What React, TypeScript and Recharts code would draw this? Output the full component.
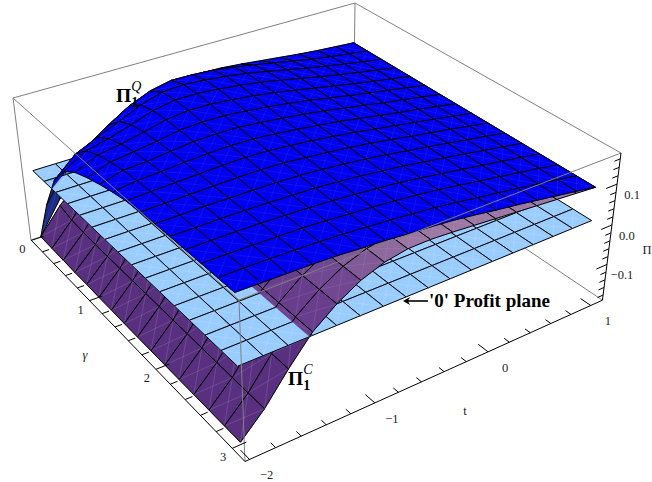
import { ScatterChart, Scatter, XAxis, YAxis } from 'recharts'

const WIDTH = 652
const HEIGHT = 482

const tValues = [-2, -1.8125, -1.625, -1.4375, -1.25, -1.0625, -0.875, -0.6875, -0.5, -0.3125, -0.125, 0.0625, 0.25, 0.4375, 0.625, 0.8125, 1]
const gammaValues = [0, 0.2, 0.4, 0.6, 0.8, 1, 1.2, 1.4, 1.6, 1.8, 2, 2.2, 2.4, 2.6, 2.8, 3]

// one row per t, one column per gamma
const quantityProfit = [
  [-0.175, -0.06, 0.03, 0.08, 0.105, 0.12, 0.132, 0.142, 0.15, 0.154, 0.157, 0.159, 0.16, 0.161, 0.162, 0.163],
  [-0.095, 0.015, 0.078, 0.113, 0.129, 0.139, 0.147, 0.15, 0.153, 0.155, 0.157, 0.158, 0.16, 0.161, 0.162, 0.162],
  [-0.035, 0.055, 0.102, 0.125, 0.138, 0.146, 0.15, 0.153, 0.155, 0.156, 0.158, 0.159, 0.16, 0.16, 0.161, 0.161],
  [0.01, 0.09, 0.125, 0.142, 0.15, 0.154, 0.156, 0.157, 0.157, 0.157, 0.157, 0.158, 0.159, 0.159, 0.16, 0.16],
  [0.05, 0.122, 0.149, 0.16, 0.163, 0.163, 0.162, 0.16, 0.159, 0.158, 0.157, 0.157, 0.157, 0.158, 0.158, 0.158],
  [0.085, 0.144, 0.165, 0.17, 0.169, 0.166, 0.163, 0.161, 0.16, 0.158, 0.156, 0.155, 0.155, 0.155, 0.155, 0.154],
  [0.105, 0.155, 0.168, 0.17, 0.168, 0.165, 0.162, 0.16, 0.158, 0.156, 0.154, 0.153, 0.152, 0.151, 0.151, 0.151],
  [0.117, 0.154, 0.164, 0.165, 0.163, 0.16, 0.157, 0.155, 0.153, 0.151, 0.15, 0.149, 0.148, 0.147, 0.147, 0.146],
  [0.12, 0.15, 0.158, 0.159, 0.157, 0.154, 0.151, 0.149, 0.148, 0.146, 0.145, 0.144, 0.143, 0.143, 0.142, 0.142],
  [0.118, 0.143, 0.15, 0.151, 0.149, 0.146, 0.144, 0.142, 0.141, 0.14, 0.139, 0.138, 0.138, 0.137, 0.137, 0.137],
  [0.113, 0.134, 0.14, 0.141, 0.139, 0.138, 0.136, 0.135, 0.134, 0.133, 0.132, 0.132, 0.131, 0.131, 0.13, 0.13],
  [0.107, 0.124, 0.129, 0.13, 0.129, 0.128, 0.127, 0.126, 0.125, 0.125, 0.124, 0.124, 0.123, 0.123, 0.122, 0.122],
  [0.101, 0.114, 0.118, 0.119, 0.119, 0.118, 0.118, 0.117, 0.117, 0.116, 0.116, 0.116, 0.115, 0.115, 0.115, 0.115],
  [0.095, 0.104, 0.108, 0.109, 0.109, 0.109, 0.108, 0.108, 0.108, 0.108, 0.108, 0.108, 0.107, 0.107, 0.107, 0.107],
  [0.09, 0.096, 0.099, 0.1, 0.1, 0.1, 0.1, 0.1, 0.1, 0.1, 0.099, 0.099, 0.099, 0.099, 0.099, 0.099],
  [0.086, 0.089, 0.09, 0.091, 0.091, 0.091, 0.091, 0.091, 0.091, 0.091, 0.091, 0.091, 0.091, 0.091, 0.091, 0.091],
  [0.082, 0.082, 0.082, 0.082, 0.082, 0.082, 0.082, 0.082, 0.082, 0.082, 0.082, 0.082, 0.082, 0.082, 0.082, 0.082],
]

const contractProfit = [
  [-0.175, -0.176, -0.177, -0.178, -0.178, -0.179, -0.179, -0.18, -0.18, -0.18, -0.18, -0.18, -0.18, -0.18, -0.18, -0.18],
  [-0.11, -0.12, -0.123, -0.125, -0.125, -0.125, -0.125, -0.125, -0.125, -0.125, -0.125, -0.125, -0.125, -0.125, -0.125, -0.125],
  [-0.06, -0.056, -0.055, -0.055, -0.055, -0.055, -0.055, -0.055, -0.055, -0.055, -0.055, -0.055, -0.055, -0.055, -0.055, -0.055],
  [-0.02, 0.0, 0.005, 0.007, 0.008, 0.008, 0.008, 0.008, 0.008, 0.008, 0.008, 0.008, 0.008, 0.008, 0.008, 0.008],
  [0.015, 0.038, 0.045, 0.048, 0.05, 0.05, 0.05, 0.05, 0.05, 0.05, 0.05, 0.05, 0.05, 0.05, 0.05, 0.05],
  [0.04, 0.068, 0.077, 0.08, 0.082, 0.082, 0.082, 0.082, 0.082, 0.082, 0.082, 0.082, 0.082, 0.082, 0.082, 0.082],
  [0.06, 0.09, 0.098, 0.1, 0.102, 0.102, 0.102, 0.102, 0.102, 0.102, 0.102, 0.102, 0.102, 0.102, 0.102, 0.102],
  [0.075, 0.102, 0.108, 0.11, 0.112, 0.112, 0.112, 0.112, 0.112, 0.112, 0.112, 0.112, 0.112, 0.112, 0.112, 0.112],
  [0.085, 0.104, 0.11, 0.112, 0.113, 0.113, 0.113, 0.113, 0.113, 0.113, 0.113, 0.113, 0.113, 0.113, 0.113, 0.113],
  [0.088, 0.103, 0.107, 0.109, 0.11, 0.11, 0.11, 0.11, 0.11, 0.11, 0.11, 0.11, 0.11, 0.11, 0.11, 0.11],
  [0.088, 0.1, 0.104, 0.105, 0.106, 0.106, 0.106, 0.106, 0.106, 0.106, 0.106, 0.106, 0.106, 0.106, 0.106, 0.106],
  [0.087, 0.097, 0.1, 0.101, 0.102, 0.102, 0.102, 0.102, 0.102, 0.102, 0.102, 0.102, 0.102, 0.102, 0.102, 0.102],
  [0.086, 0.093, 0.096, 0.097, 0.098, 0.098, 0.098, 0.098, 0.098, 0.098, 0.098, 0.098, 0.098, 0.098, 0.098, 0.098],
  [0.085, 0.09, 0.092, 0.093, 0.094, 0.094, 0.094, 0.094, 0.094, 0.094, 0.094, 0.094, 0.094, 0.094, 0.094, 0.094],
  [0.084, 0.087, 0.089, 0.09, 0.09, 0.09, 0.09, 0.09, 0.09, 0.09, 0.09, 0.09, 0.09, 0.09, 0.09, 0.09],
  [0.083, 0.085, 0.086, 0.086, 0.086, 0.086, 0.086, 0.086, 0.086, 0.086, 0.086, 0.086, 0.086, 0.086, 0.086, 0.086],
  [0.082, 0.082, 0.082, 0.082, 0.082, 0.082, 0.082, 0.082, 0.082, 0.082, 0.082, 0.082, 0.082, 0.082, 0.082, 0.082],
]

const gammaTickLabels = [0, 1, 2, 3]
const tTickLabels = [-2, -1, 0, 1]
const zTickLabels = [0.1, 0, -0.1]
const gammaMinorTicks = [0, 0.2, 0.4, 0.6, 0.8, 1, 1.2, 1.4, 1.6, 1.8, 2, 2.2, 2.4, 2.6, 2.8, 3]
const tMinorTicks = [-2, -1.8, -1.6, -1.4, -1.2, -1, -0.8, -0.6, -0.4, -0.2, 0, 0.2, 0.4, 0.6, 0.8, 1]
const zMinorTicks = [-0.18, -0.16, -0.14, -0.12, -0.1, -0.08, -0.06, -0.04, -0.02, 0, 0.02, 0.04, 0.06, 0.08, 0.1, 0.12, 0.14, 0.16]

type V3 = { u: number; v: number; s: number; z: number }
type Pt = [number, number]

// perspective of the plot box, fitted to its visible corners
const project = (u: number, v: number, s: number): Pt => {
  const w = 1 + 0.14506 * u - 0.20572 * v + 0.062 * s
  return [(13 + 393.5 * u + 176.83 * v + 19.92 * s) / w, (98 - 94.56 * u + 140.28 * v + 156.9 * s) / w]
}
const surfaceU = (t: number) => 0.015 + (t + 2) * 0.32
const surfaceV = (g: number) => 0.03 + g * 0.31
const zToS = (z: number) => 0.473 - 2.72 * z
const axisU = (t: number) => 0.011 + (t + 2) * 0.317
const axisV = (g: number) => 0.002 + g * 0.3165

const mix = (a: number[], b: number[], k: number) => {
  const c = Math.max(0, Math.min(1, k))
  return `rgb(${a.map((n, i) => Math.round(n + (b[i] - n) * c)).join(',')})`
}

const cut = (a: V3, b: V3): V3 => {
  const k = a.z / (a.z - b.z)
  return { u: a.u + (b.u - a.u) * k, v: a.v + (b.v - a.v) * k, s: a.s + (b.s - a.s) * k, z: 0 }
}

const keep = (side: number, p: V3) => side === 0 || p.z * side >= 0

const clipPoly = (poly: V3[], side: number) => {
  const out: V3[] = []
  poly.forEach((p, i) => {
    const q = poly[(i + 1) % poly.length]
    if (keep(side, p)) out.push(p)
    if (side !== 0 && keep(side, p) !== keep(side, q)) out.push(cut(p, q))
  })
  return out
}

const clipEdge = (a: V3, b: V3, side: number): [V3, V3] | null => {
  const ka = keep(side, a)
  const kb = keep(side, b)
  if (ka && kb) return [a, b]
  if (!ka && !kb) return null
  return ka ? [a, cut(a, b)] : [cut(a, b), b]
}

// far cells first so nearer cells paint over them
const buildCells = (table: number[][], side: number, color: (r: number, c: number) => string, veil: string) => {
  const cells: any[] = []
  for (let r = tValues.length - 2; r >= 0; r--) {
    for (let c = 0; c < gammaValues.length - 1; c++) {
      const corner = (ri: number, ci: number): V3 => ({
        u: surfaceU(tValues[ri]),
        v: surfaceV(gammaValues[ci]),
        s: zToS(table[ri][ci]),
        z: table[ri][ci],
      })
      const quad = [corner(r, c), corner(r, c + 1), corner(r + 1, c + 1), corner(r + 1, c)]
      const poly = clipPoly(quad, side)
      if (poly.length < 3) continue
      const pts = poly.map((p) => project(p.u, p.v, p.s))
      const edges: Pt[][] = []
      quad.forEach((p, i) => {
        const piece = clipEdge(p, quad[(i + 1) % 4], side)
        if (piece) edges.push([project(piece[0].u, piece[0].v, piece[0].s), project(piece[1].u, piece[1].v, piece[1].s)])
      })
      const x = pts.reduce((a, p) => a + p[0], 0) / pts.length
      const y = pts.reduce((a, p) => a + p[1], 0) / pts.length
      cells.push({ x, y, pts, edges, fill: color(r, c), veil })
    }
  }
  return cells
}

const quantityColor = (r: number, c: number) => {
  const slope = (quantityProfit[r][c + 1] - quantityProfit[r][c]) / 0.2
  return mix([0, 0, 240], [20, 30, 130], (slope - 0.3) / 0.3)
}
const contractColor = (r: number) => {
  const slope = (contractProfit[r + 1][8] - contractProfit[r][8]) / 0.1875
  return mix([156, 120, 164], [104, 62, 140], slope / 0.2)
}
const zeroPlane = tValues.map(() => gammaValues.map(() => 0))

const contractBelow = buildCells(contractProfit, -1, () => '#58307f', 'rgba(205,180,225,0.28)')
const quantityBelow = buildCells(quantityProfit, -1, () => '#1a2c88', 'rgba(120,130,230,0.25)')
const planeCells = buildCells(zeroPlane, 0, () => '#99ccff', 'rgba(205,225,255,0.4)')
const contractAbove = buildCells(contractProfit, 1, contractColor, 'rgba(205,180,225,0.2)')
const quantityAbove = buildCells(quantityProfit, 1, quantityColor, 'rgba(70,70,250,0.35)')

const CellShape = (props: any) => {
  const { cx, cy, payload } = props
  const dx = cx - payload.x
  const dy = cy - payload.y
  const pts: Pt[] = payload.pts.map((p: Pt) => [p[0] + dx, p[1] + dy])
  const mid = Math.floor(pts.length / 2)
  const other = pts[mid + 1 < pts.length ? mid + 1 : 0]
  return (
    <g>
      <polygon points={pts.map((p) => p.join(',')).join(' ')} fill={payload.fill} stroke={payload.fill} strokeWidth={0.5} />
      <line x1={pts[0][0]} y1={pts[0][1]} x2={pts[mid][0]} y2={pts[mid][1]} stroke={payload.veil} strokeWidth={0.7} />
      <line x1={pts[1][0]} y1={pts[1][1]} x2={other[0]} y2={other[1]} stroke={payload.veil} strokeWidth={0.7} />
      {payload.edges.map((e: Pt[], i: number) => (
        <line key={i} x1={e[0][0] + dx} y1={e[0][1] + dy} x2={e[1][0] + dx} y2={e[1][1] + dy} stroke="#000" strokeWidth={1} />
      ))}
    </g>
  )
}

const seg = (a: Pt, b: Pt, stroke: string, width = 1) => ({ x: a[0], y: a[1], bx: b[0], by: b[1], stroke, width })

const SegShape = (props: any) => {
  const { cx, cy, payload } = props
  return (
    <line x1={cx} y1={cy} x2={cx + payload.bx - payload.x} y2={cy + payload.by - payload.y}
      stroke={payload.stroke} strokeWidth={payload.width} />
  )
}

const GRAY = '#7f7f7f'
const boxBack = [
  seg(project(0, 0, 0), project(1, 0, 0), GRAY),
  seg(project(1, 0, 0), project(1, 1, 0), GRAY),
  seg(project(1, 0, 0), project(1, 0, 1), GRAY),
  seg(project(0, 0, 1), project(1, 0, 1), GRAY),
  seg(project(1, 0, 1), project(1, 1, 1), GRAY),
]
const boxFront = [
  seg(project(0, 0, 0), project(0, 0, 1), GRAY),
  seg(project(0, 1, 0), project(0, 1, 1), GRAY),
  seg(project(0, 0, 0), project(0, 1, 0), GRAY),
  seg(project(0, 1, 0), project(1, 1, 0), GRAY),
]

const axisSegs = [
  seg(project(0, 0, 1), project(0, 1, 1), '#000'),
  seg(project(0, 1, 1), project(1, 1, 1), '#000'),
  seg(project(1, 1, 1), project(1, 1, 0), '#000'),
  ...gammaMinorTicks.map((g) => {
    const len = Number.isInteger(g) ? 0.034 : 0.018
    return seg(project(0, axisV(g), 1), project(len, axisV(g), 1), '#000')
  }),
  ...tMinorTicks.map((t) => {
    const len = Number.isInteger(t) ? 0.034 : 0.018
    return seg(project(axisU(t), 1, 1), project(axisU(t), 1 - len, 1), '#000')
  }),
  ...zMinorTicks.map((z) => {
    const len = Math.abs(z * 10 - Math.round(z * 10)) < 0.001 ? 0.034 : 0.018
    return seg(project(1, 1, zToS(z)), project(1 - len, 1, zToS(z)), '#000')
  }),
  seg([408, 301], [428, 301], '#000', 1.6),
]

const label = (p: Pt, text: string, extra: any = {}) => ({ x: p[0], y: p[1], text, ...extra })
const shift = (p: Pt, dx: number, dy: number): Pt => [p[0] + dx, p[1] + dy]
const minus = (n: number, digits = 0) => (n < 0 ? '\u2212' : '') + Math.abs(n).toFixed(digits)

const labels = [
  ...gammaTickLabels.map((g) => label(shift(project(0, axisV(g), 1), -9, 9), String(g))),
  ...tTickLabels.map((t) => label(shift(project(axisU(t), 1, 1), 17, 16), minus(t))),
  ...zTickLabels.map((z) => label(shift(project(1, 1, zToS(z)), 15, 11), minus(z, 1))),
  label([85, 355], '\u03b3', { italic: true }),
  label([465, 411], 't'),
  label([647, 250], '\u03a0'),
]

const LabelShape = (props: any) => {
  const { cx, cy, payload } = props
  return (
    <text x={cx} y={cy} textAnchor="middle" dominantBaseline="central" fontFamily="'Liberation Serif'"
      fontSize={12.5} fontStyle={payload.italic ? 'italic' : 'normal'} fill="#222">
      {payload.text}
    </text>
  )
}

const notes = [
  { x: 116, y: 102, sup: 'Q' },
  { x: 288, y: 385, sup: 'C' },
]

const PiShape = (props: any) => {
  const { cx, cy, payload } = props
  return (
    <text x={cx} y={cy} fontFamily="'Liberation Serif'" fontWeight="bold" fontSize={19.5} fill="#000">
      {'\u03a0'}
      <tspan dy={5} fontSize={14}>1</tspan>
      <tspan dx={-7} dy={-16} fontSize={14} fontStyle="italic" fontWeight="normal">{payload.sup}</tspan>
    </text>
  )
}

const planeNote = [{ x: 429, y: 307, text: "'0' Profit plane" }]

const NoteShape = (props: any) => {
  const { cx, cy, payload } = props
  return (
    <g>
      <path d={`M${cx - 26} ${cy - 6} l7 -4 l-2 4 l2 4 z`} fill="#000" />
      <text x={cx} y={cy} fontFamily="'Liberation Serif'" fontWeight="bold" fontSize={19} fill="#000">
        {payload.text}
      </text>
    </g>
  )
}

export default function App() {
  return (
    <div style={{ position: 'absolute', left: 0, top: 0, width: WIDTH, height: HEIGHT }}>
      <ScatterChart width={WIDTH} height={HEIGHT} margin={{ top: 0, right: 0, bottom: 0, left: 0 }}>
        <XAxis type="number" dataKey="x" domain={[0, WIDTH]} hide />
        <YAxis type="number" dataKey="y" domain={[0, HEIGHT]} reversed hide />
        <Scatter data={boxBack} shape={SegShape} isAnimationActive={false} />
        <Scatter data={contractBelow} shape={CellShape} isAnimationActive={false} />
        <Scatter data={quantityBelow} shape={CellShape} isAnimationActive={false} />
        <Scatter data={planeCells} shape={CellShape} isAnimationActive={false} />
        <Scatter data={contractAbove} shape={CellShape} isAnimationActive={false} />
        <Scatter data={quantityAbove} shape={CellShape} isAnimationActive={false} />
        <Scatter data={boxFront} shape={SegShape} isAnimationActive={false} />
        <Scatter data={axisSegs} shape={SegShape} isAnimationActive={false} />
        <Scatter data={labels} shape={LabelShape} isAnimationActive={false} />
        <Scatter data={notes} shape={PiShape} isAnimationActive={false} />
        <Scatter data={planeNote} shape={NoteShape} isAnimationActive={false} />
      </ScatterChart>
    </div>
  )
}
